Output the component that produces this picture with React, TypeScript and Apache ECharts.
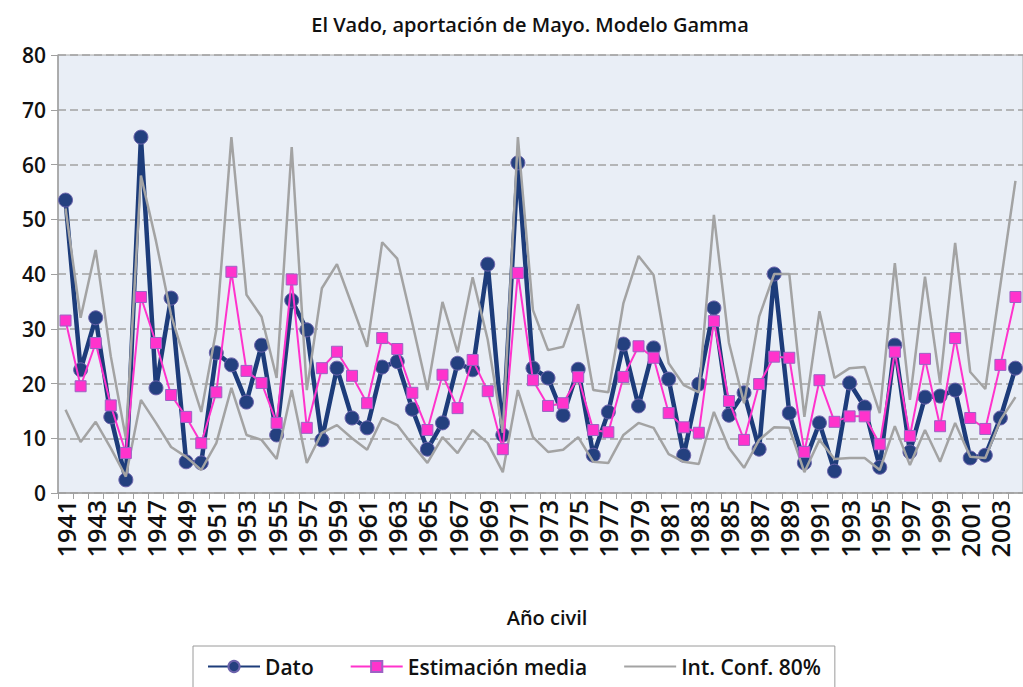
import React, { useEffect, useRef } from "react";
import * as echarts from "echarts";

const years: string[] = [];
for (let y = 1941; y <= 2004; y++) years.push(String(y));

const dato = [
  53.5, 22.5, 32, 13.9, 2.4, 65, 19.2, 35.6, 5.7, 5.5,
  25.6, 23.4, 16.6, 27, 10.6, 35.2, 29.8, 9.7, 22.8, 13.7,
  11.9, 23, 24, 15.3, 8, 12.8, 23.7, 22.5, 41.8, 10.6,
  60.3, 22.8, 21, 14.2, 22.6, 6.9, 14.8, 27.2, 15.9, 26.5,
  20.8, 6.9, 19.9, 33.8, 14.2, 18.3, 8, 40, 14.6, 5.5,
  12.8, 4, 20.1, 15.7, 4.7, 27, 7.5, 17.5, 17.7, 18.8,
  6.4, 6.9, 13.7, 22.8,
];

const estimacion = [
  31.5, 19.5, 27.4, 16, 7.3, 35.8, 27.4, 17.9, 13.9, 9.1,
  18.4, 40.4, 22.3, 20.1, 12.8, 39, 11.9, 22.8, 25.8, 21.4,
  16.4, 28.3, 26.3, 18.3, 11.5, 21.6, 15.5, 24.3, 18.6, 8,
  40.2, 20.6, 15.9, 16.4, 21.2, 11.5, 11.1, 21.2, 26.8, 24.7,
  14.6, 12, 11, 31.4, 16.8, 9.7, 19.9, 24.9, 24.7, 7.5,
  20.6, 13, 14, 14, 8.9, 25.8, 10.4, 24.5, 12.2, 28.3,
  13.7, 11.7, 23.4, 35.8,
];

const icSuperior = [
  52, 32, 44.4, 25, 10, 58, 46, 32.5, 23.5, 14.8,
  29.8, 65, 36.2, 32.2, 21, 63.2, 18.8, 37.4, 41.8, 34.3,
  26.7, 45.8, 42.8, 31, 18.8, 34.9, 25.7, 39.4, 28, 11,
  65, 33.4, 26.1, 26.7, 34.5, 18.8, 18.4, 34.7, 43.3, 39.8,
  23.7, 19.7, 18.4, 50.8, 27.4, 16.4, 32.2, 40, 40, 13.9,
  33.2, 21, 22.8, 23, 14.6, 42, 17, 39.5, 20.1, 45.7,
  22.1, 19, 38, 57,
];

const icInferior = [
  15.2, 9.3, 13, 8.2, 3, 17, 12.8, 8.4, 6.6, 4.2,
  9.1, 19.2, 10.6, 9.7, 6.2, 18.8, 5.5, 11, 12.4, 10,
  7.9, 13.7, 12.4, 8.8, 5.5, 10.2, 7.3, 11.5, 9.1, 3.8,
  18.8, 10.2, 7.5, 7.9, 10.2, 5.7, 5.5, 10.6, 12.8, 11.9,
  7.1, 5.7, 5.3, 14.8, 8.2, 4.6, 9.7, 12, 11.9, 3.8,
  9.7, 6.2, 6.4, 6.4, 4.2, 12.2, 5.1, 11.5, 5.7, 12.8,
  6.6, 6.4, 13.3, 17.5,
];

const FONT = "'Open Sans', sans-serif";

export default function App() {
  const ref = useRef<HTMLDivElement>(null);
  useEffect(() => {
    document.body.style.margin = "0";
    if (!ref.current) return;
    const chart = echarts.init(ref.current, null, { renderer: "svg" });
    const grayName = "Int. Conf. 80%";
    chart.setOption({
      animation: false,
      backgroundColor: "#ffffff",
      textStyle: { fontFamily: FONT },
      title: [
        {
          text: "El Vado, aportación de Mayo. Modelo Gamma",
          left: 525,
          top: 9,
          textAlign: "center",
          textStyle: { fontFamily: FONT, fontSize: 20, fontWeight: 600, color: "#111111" },
        },
        {
          text: "Año civil",
          left: 542,
          top: 602,
          textAlign: "center",
          textStyle: { fontFamily: FONT, fontSize: 20, fontWeight: 600, color: "#111111" },
        },
      ],
      legend: {
        data: [
          "Dato",
          "Estimación media",
          {
            name: grayName,
            itemStyle: { color: "rgba(0,0,0,0)", borderWidth: 0, opacity: 0 },
          },
        ],
        left: 193,
        top: 646,
        padding: [10, 14, 20, 14],
        borderColor: "#9a9a9a",
        borderWidth: 1,
        itemGap: 36,
        itemWidth: 52,
        itemHeight: 14,
        textStyle: { fontFamily: FONT, fontSize: 21, fontWeight: 600, color: "#111111" },
      },
      grid: {
        left: 58,
        top: 55,
        right: -8,
        bottom: 194,
        show: true,
        backgroundColor: "#e9eef6",
        borderColor: "#a8a8a8",
        borderWidth: 1,
      },
      xAxis: {
        type: "category",
        data: years,
        boundaryGap: true,
        axisLine: { show: true, lineStyle: { color: "#a0a0a0", width: 1.5 } },
        axisTick: { show: true, interval: 0, length: 6, lineStyle: { color: "#a0a0a0" } },
        axisLabel: {
          interval: 1,
          rotate: 90,
          margin: 7,
          fontFamily: FONT,
          fontSize: 25,
          fontWeight: 600,
          color: "#111111",
        },
        splitLine: { show: false },
      },
      yAxis: {
        type: "value",
        min: 0,
        max: 80,
        interval: 10,
        axisLine: { show: true, lineStyle: { color: "#a0a0a0", width: 1.5 } },
        axisTick: { show: true, length: 7, lineStyle: { color: "#a0a0a0" } },
        axisLabel: { margin: 12, fontFamily: FONT, fontSize: 21, fontWeight: 600, color: "#111111" },
        splitLine: { show: true, lineStyle: { color: "#a3a3a3", type: [8, 4], width: 1.5 } },
      },
      series: [
        {
          name: "Dato",
          type: "line",
          data: dato,
          z: 2,
          symbol: "circle",
          symbolSize: 14,
          showAllSymbol: true,
          lineStyle: { color: "#1d3c7a", width: 4.5 },
          itemStyle: { color: "#24407f", borderColor: "#6c63ac", borderWidth: 1 },
        },
        {
          name: grayName,
          type: "line",
          data: icSuperior,
          z: 3,
          symbol: "none",
          lineStyle: { color: "#a3a3a3", width: 2.5 },
          itemStyle: { color: "#a3a3a3" },
        },
        {
          name: grayName,
          type: "line",
          data: icInferior,
          z: 3,
          symbol: "none",
          lineStyle: { color: "#a3a3a3", width: 2.5 },
          itemStyle: { color: "#a3a3a3" },
        },
        {
          name: "Estimación media",
          type: "line",
          data: estimacion,
          z: 4,
          symbol: "rect",
          symbolSize: 11,
          showAllSymbol: true,
          lineStyle: { color: "#ff33cc", width: 2 },
          itemStyle: { color: "#ff33cc", borderColor: "#9d62c4", borderWidth: 1 },
        },
      ],
    });
    return () => chart.dispose();
  }, []);
  return (
    <div
      ref={ref}
      style={{ position: "absolute", left: 0, top: 0, width: 1023, height: 687 }}
    />
  );
}
